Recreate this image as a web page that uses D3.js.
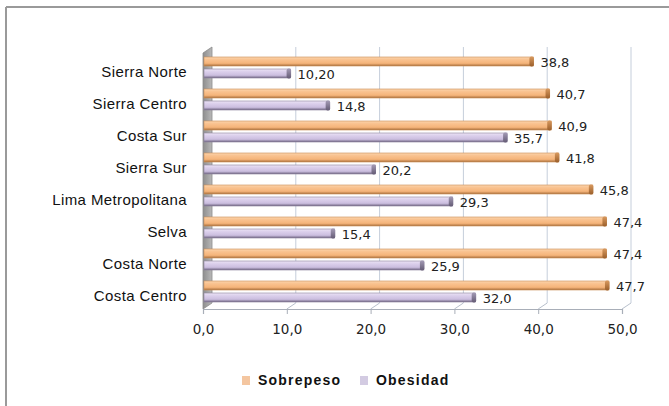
<!DOCTYPE html>
<html>
<head>
<meta charset="utf-8">
<script src="https://cdn.jsdelivr.net/npm/d3@7/dist/d3.min.js"></script>
<style>
  html, body { margin: 0; padding: 0; background: #fff; }
  svg { display: block; }
</style>
</head>
<body>
<svg id="chart" width="669" height="406"></svg>
<script>
const categories = ["Sierra Norte", "Sierra Centro", "Costa Sur", "Sierra Sur", "Lima Metropolitana", "Selva", "Costa Norte", "Costa Centro"];
const sobrepeso = [38.8, 40.7, 40.9, 41.8, 45.8, 47.4, 47.4, 47.7];
const obesidad = [10.2, 14.8, 35.7, 20.2, 29.3, 15.4, 25.9, 32.0];
const sobrepesoLabels = ["38,8", "40,7", "40,9", "41,8", "45,8", "47,4", "47,4", "47,7"];
const obesidadLabels = ["10,20", "14,8", "35,7", "20,2", "29,3", "15,4", "25,9", "32,0"];
const tickValues = [0, 10, 20, 30, 40, 50];
const tickLabels = ["0,0", "10,0", "20,0", "30,0", "40,0", "50,0"];
const seriesNames = ["Sobrepeso", "Obesidad"];

const svg = d3.select("#chart");
const defs = svg.append("defs");

function grad(id, stops) {
  const g = defs.append("linearGradient").attr("id", id)
    .attr("x1", 0).attr("y1", 0).attr("x2", 0).attr("y2", 1);
  stops.forEach(s => g.append("stop").attr("offset", s[0]).attr("stop-color", s[1]));
}
grad("gOrange", [[0, "#fbd4ad"], [0.3, "#f9c28f"], [0.7, "#f5b47a"], [1, "#a9703d"]]);
grad("gPurple", [[0, "#ece4f5"], [0.3, "#dbcfeb"], [0.7, "#cbbedf"], [1, "#6f6582"]]);
grad("gOrangeCap", [[0, "#d99a5f"], [1, "#9a5e2a"]]);
grad("gPurpleCap", [[0, "#a49bb6"], [1, "#645b74"]]);
const wallGrad = defs.append("linearGradient").attr("id", "gWall")
  .attr("x1", 0).attr("y1", 0).attr("x2", 1).attr("y2", 0);
wallGrad.append("stop").attr("offset", 0).attr("stop-color", "#8e8e8e");
wallGrad.append("stop").attr("offset", 1).attr("stop-color", "#b8b8b8");

// outer frame
svg.append("line").attr("x1", 6).attr("y1", 7).attr("x2", 669).attr("y2", 7)
  .attr("stroke", "#9a9a9a").attr("stroke-width", 2);
svg.append("line").attr("x1", 6).attr("y1", 7).attr("x2", 6).attr("y2", 406)
  .attr("stroke", "#9a9a9a").attr("stroke-width", 2);

// scales
const dx = 9, dy = -6;
const xFront = d3.scaleLinear().domain([0, 50]).range([203, 622]);
const xBack = v => xFront(v) + dx;
const xBar = d3.scaleLinear().domain([0, 50]).range([204, 628.5]);
const y = d3.scaleBand().domain(categories).range([53, 309]);
const floorY = 309;
const topY = 53;

// back wall gridlines
svg.append("g").selectAll("line").data(tickValues.slice(1)).join("line")
  .attr("x1", d => xBack(d)).attr("x2", d => xBack(d))
  .attr("y1", topY + dy).attr("y2", floorY + dy)
  .attr("stroke", "#c5cedb").attr("stroke-width", 1);

// floor: diagonal lines at ticks
svg.append("g").selectAll("line").data(tickValues.slice(1)).join("line")
  .attr("x1", d => xFront(d)).attr("y1", floorY)
  .attr("x2", d => xBack(d)).attr("y2", floorY + dy)
  .attr("stroke", "#b8c0cc").attr("stroke-width", 1);

// left side wall
svg.append("path")
  .attr("d", `M${xFront(0)},${topY} L${xBack(0)},${topY + dy} L${xBack(0)},${floorY + dy} L${xFront(0)},${floorY} Z`)
  .attr("fill", "url(#gWall)").attr("stroke", "#8a8a8a").attr("stroke-width", 0.8);

// front floor axis
const axis = d3.axisBottom(xFront).tickValues(tickValues)
  .tickFormat((d, i) => tickLabels[i]).tickSize(5).tickPadding(10);
const axG = svg.append("g").attr("transform", `translate(0,${floorY})`).call(axis);
axG.select(".domain").attr("stroke", "#a8aeb8").attr("stroke-width", 1.2);
axG.selectAll(".tick line").attr("stroke", "#a8aeb8");
axG.selectAll(".tick text").attr("fill", "#222")
  .style("font-family", "DejaVu Sans, sans-serif").style("font-size", "13.5px");

// bars
const barH = 9;
function drawBars(values, labels, offset, fill, cap, edge, cls) {
  const g = svg.append("g").attr("class", cls);
  g.selectAll("rect.bar").data(values).join("rect").attr("class", "bar")
    .attr("x", xBar(0)).attr("y", (d, i) => y(categories[i]) + offset)
    .attr("width", d => xBar(d) - xBar(0)).attr("height", barH)
    .attr("fill", fill).attr("stroke", edge).attr("stroke-width", 0.6);
  g.selectAll("rect.cap").data(values).join("rect").attr("class", "cap")
    .attr("x", d => xBar(d) - 4).attr("y", (d, i) => y(categories[i]) + offset - 0.5)
    .attr("width", 4.5).attr("height", barH + 1).attr("rx", 2)
    .attr("fill", cap);
  g.selectAll("text").data(values).join("text")
    .attr("x", d => xBar(d) + 7).attr("y", (d, i) => y(categories[i]) + offset + barH / 2 + 2)
    .attr("dominant-baseline", "middle")
    .attr("fill", "#222")
    .style("font-family", "DejaVu Sans, sans-serif").style("font-size", "13px")
    .text((d, i) => labels[i]);
}
drawBars(obesidad, obesidadLabels, 16, "url(#gPurple)", "url(#gPurpleCap)", "#8a809c", "obesidad");
drawBars(sobrepeso, sobrepesoLabels, 4, "url(#gOrange)", "url(#gOrangeCap)", "#c98d55", "sobrepeso");

// category labels
svg.append("g").selectAll("text").data(categories).join("text")
  .attr("x", 187).attr("y", d => y(d) + 20)
  .attr("text-anchor", "end").attr("dominant-baseline", "middle")
  .attr("fill", "#111")
  .style("font-family", "Liberation Sans, Arial, sans-serif").style("font-size", "15px")
  .style("letter-spacing", "0.4px")
  .text(d => d);

// legend
const legendColors = ["#f4c6a0", "#d3cbe2"];
const legendX = [242, 360];
const legend = svg.append("g");
seriesNames.forEach((name, i) => {
  legend.append("rect").attr("x", legendX[i]).attr("y", 376).attr("width", 8).attr("height", 9)
    .attr("fill", legendColors[i]);
  legend.append("text").attr("x", legendX[i] + 16).attr("y", 381)
    .attr("dominant-baseline", "middle").attr("fill", "#111")
    .style("font-family", "Liberation Sans, Arial, sans-serif").style("font-size", "14px")
    .style("font-weight", "bold").style("letter-spacing", "1.2px")
    .text(name);
});
</script>
</body>
</html>
